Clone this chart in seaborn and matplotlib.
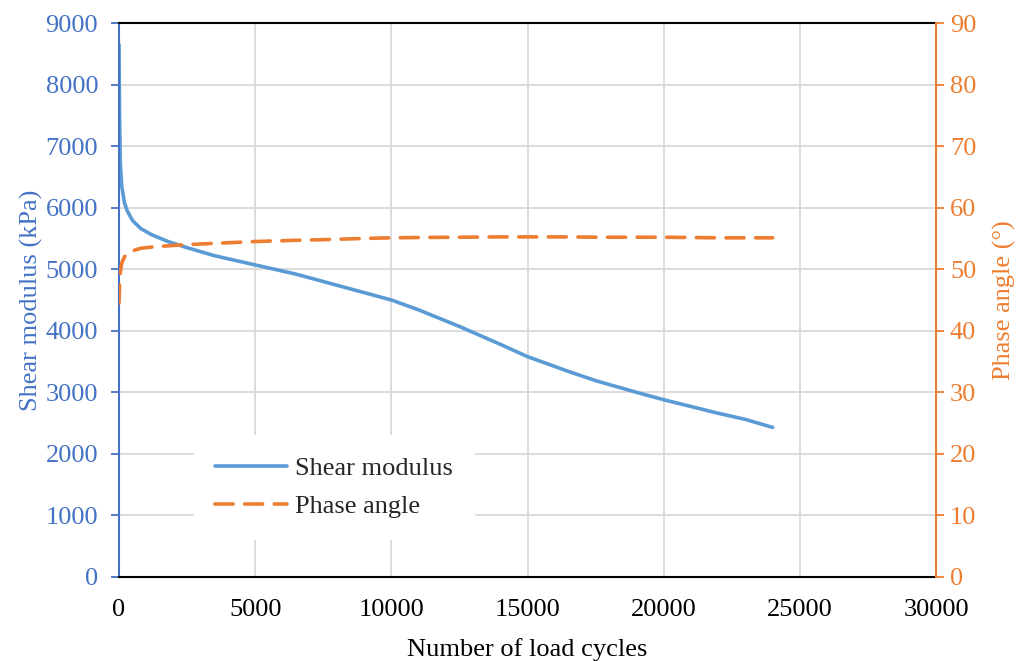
import matplotlib
matplotlib.use('Agg')
import matplotlib.pyplot as plt
import seaborn as sns
import pandas as pd

# data
cycles = [0, 20, 50, 100, 200, 300, 500, 800, 1200, 1800, 2500, 3500, 5000,
          6500, 7500, 9000, 10000, 11000, 12500, 14000, 15000, 16500, 17500,
          19000, 20000, 21000, 22000, 23000, 24000]
shear_modulus = [8650, 7500, 6700, 6350, 6080, 5950, 5790, 5660, 5560, 5450,
                 5350, 5220, 5070, 4920, 4800, 4620, 4500, 4340, 4070, 3780,
                 3580, 3340, 3190, 3000, 2880, 2770, 2660, 2560, 2430]
phase_angle = [44.5, 47.5, 49.5, 51.0, 52.0, 52.6, 53.0, 53.4, 53.6, 53.8,
               54.0, 54.2, 54.5, 54.7, 54.8, 55.0, 55.1, 55.15, 55.2, 55.25,
               55.25, 55.25, 55.2, 55.2, 55.2, 55.15, 55.1, 55.1, 55.1]

df = pd.DataFrame({'cycles': cycles, 'G': shear_modulus, 'phase': phase_angle})

blue_line = '#5B9BD5'
blue_axis = '#4472C4'
orange = '#ED7D31'
fs = 19

sns.set_style('white')
plt.rcParams['font.family'] = ['Liberation Serif', 'DejaVu Serif']

fig = plt.figure(figsize=(10.25, 6.61), dpi=100)
ax = fig.add_axes([0.1161, 0.1271, 0.7971, 0.8381])
ax2 = ax.twinx()

sns.lineplot(data=df, x='cycles', y='G', ax=ax, color=blue_line, linewidth=2.6,
             label='Shear modulus', legend=False)
sns.lineplot(data=df, x='cycles', y='phase', ax=ax2, color=orange, linewidth=2.6,
             linestyle='--', label='Phase angle', legend=False)
ax2.lines[0].set_dashes([5, 3.2])
ax2.lines[0].set_dash_capstyle('round')

ax.set_xlim(0, 30000)
ax.set_ylim(0, 9000)
ax2.set_ylim(0, 90)
ax.set_xticks(range(0, 30001, 5000))
ax.set_yticks(range(0, 9001, 1000))
ax2.set_yticks(range(0, 91, 10))

ax.grid(True, color='#D9D9D9', linewidth=1.3)
ax.set_axisbelow(True)

# spines
for s in ['top', 'bottom']:
    ax.spines[s].set_color('black')
    ax.spines[s].set_linewidth(1.5)
ax.spines['left'].set_color(blue_axis)
ax.spines['left'].set_linewidth(1.5)
ax.spines['right'].set_visible(False)
for s in ['top', 'bottom', 'left']:
    ax2.spines[s].set_visible(False)
ax2.spines['right'].set_color(orange)
ax2.spines['right'].set_linewidth(1.5)

ax.tick_params(axis='x', length=0, labelsize=fs, colors='black', pad=16)
ax.tick_params(axis='y', direction='out', length=6, width=1.3, color=blue_axis,
               labelcolor=blue_axis, labelsize=fs, pad=9, left=True)
ax2.tick_params(axis='y', direction='out', length=6, width=1.3, color=orange,
                labelcolor=orange, labelsize=fs, pad=4, right=True)

ax.set_xlabel('Number of load cycles', fontsize=fs, color='black', labelpad=12)
ax.set_ylabel('Shear modulus (kPa)', fontsize=fs, color=blue_axis, labelpad=2)
ax2.set_ylabel('Phase angle (°)', fontsize=fs, color=orange, labelpad=12)

handles = ax.lines[:1] + ax2.lines[:1]
leg = ax2.legend(handles, ['Shear modulus', 'Phase angle'], loc='center',
                 bbox_to_anchor=(0.263, 0.162), fontsize=fs, frameon=True,
                 facecolor='white', edgecolor='white', framealpha=1,
                 fancybox=False, handlelength=2.7, handletextpad=0.3,
                 labelspacing=0.55, borderpad=0.8, borderaxespad=0)

fig.savefig('out.png', dpi=100)
